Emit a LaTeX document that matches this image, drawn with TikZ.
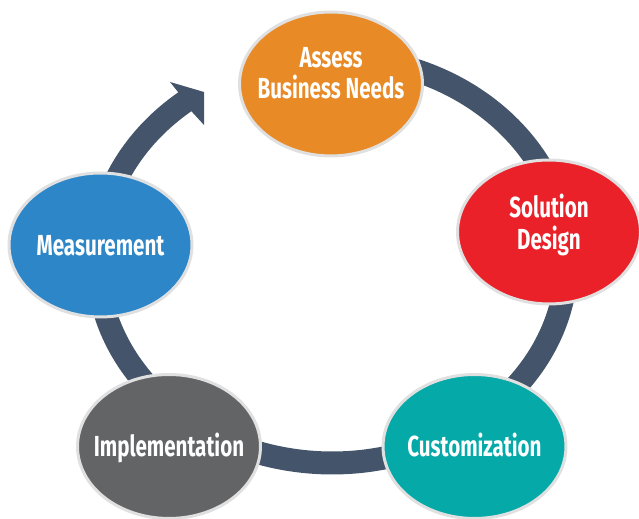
\documentclass[tikz,border=0pt]{standalone}
\usepackage{fontspec}
\usepackage{tikz}
\usetikzlibrary{shapes.geometric}
\newfontfamily\cyclefont{Fira Sans}[FakeStretch=0.71]
\definecolor{ringslate}{RGB}{68, 84, 106}
\definecolor{assessorange}{RGB}{232, 138, 38}
\definecolor{designred}{RGB}{235, 33, 41}
\definecolor{customteal}{RGB}{5, 169, 168}
\definecolor{implementgray}{RGB}{99, 100, 102}
\definecolor{measureblue}{RGB}{45, 134, 199}
\definecolor{rimgray}{RGB}{224, 224, 224}
\newcommand{\cyclelabel}[1]{\makebox[0pt]{\begin{tabular}[b]{@{}c@{}}#1\end{tabular}}}

\begin{document}
\begin{tikzpicture}[x=0.02cm, y=0.02cm,
	stage/.style={ellipse, draw=rimgray, line width=0.06cm, minimum width=3.66cm, minimum height=2.88cm,
		inner sep=0pt, text=white, text height=11.4pt, text depth=0pt,
		font=\cyclefont\bfseries\fontsize{16.5}{15.5}\selectfont}]
	\useasboundingbox (0,0) rectangle (639,519);
	\draw[ringslate, line width=0.46cm] (332,259) ++(80:4.7cm and 4.06cm) arc[start angle=80, end angle=-232, x radius=4.7cm, y radius=4.06cm];
	\fill[ringslate] (170,437)--(204,427)--(204,394)--(191.6,407.5)--(178.4,426.5)--cycle;
	\node[stage, fill=assessorange, text height=17pt] (assess) at (331,435) {\cyclelabel{Assess\\Business Needs}};
	\node[stage, fill=designred, text height=20pt] (design) at (549,287) {\cyclelabel{Solution\\Design}};
	\node[stage, fill=customteal] (custom) at (474.5,72.5) {\cyclelabel{Customization}};
	\node[stage, fill=implementgray] (implement) at (169,72.5) {\cyclelabel{Implementation}};
	\node[stage, fill=measureblue] (measure) at (100.5,274) {\cyclelabel{Measurement}};
\end{tikzpicture}
\end{document}
